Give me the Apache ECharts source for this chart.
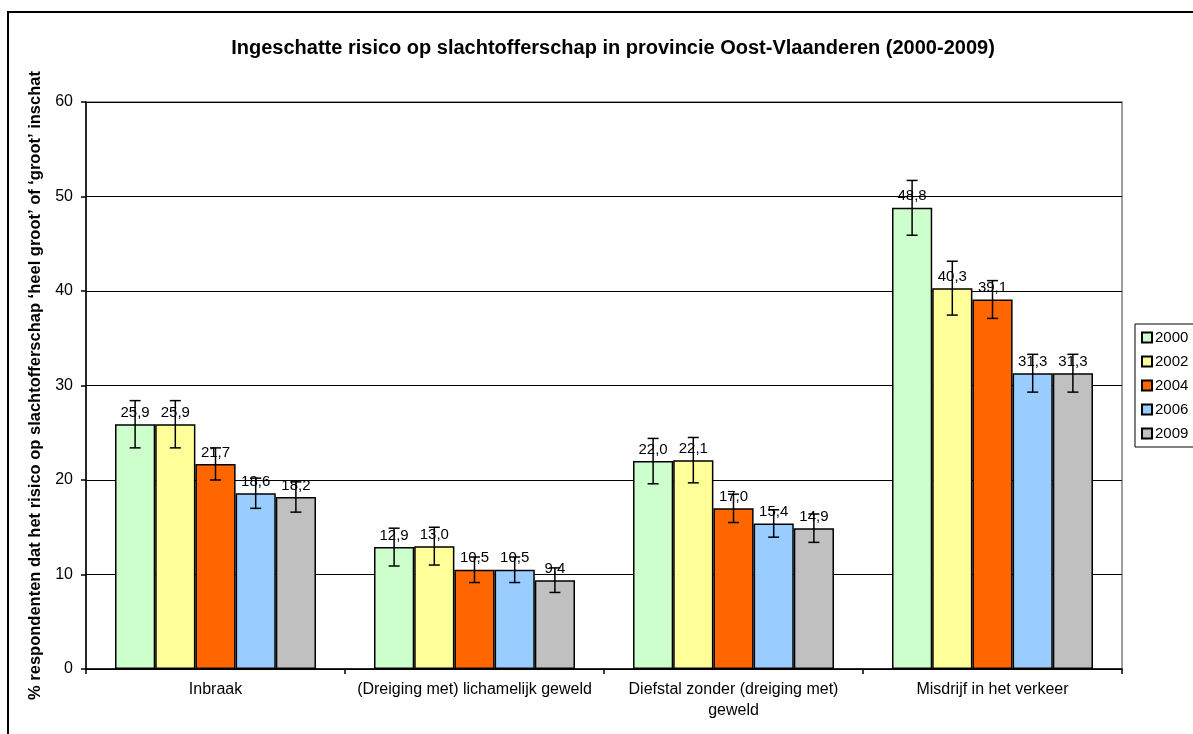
<!DOCTYPE html>
<html>
<head>
<meta charset="utf-8">
<script src="https://cdn.jsdelivr.net/npm/echarts@6/dist/echarts.min.js"></script>
<style>html,body{margin:0;padding:0;background:#fff}#c{width:1193px;height:734px}</style>
</head>
<body>
<div id="c"></div>
<script>
var categories = ['Inbraak', '(Dreiging met) lichamelijk geweld', 'Diefstal zonder (dreiging met)\ngeweld', 'Misdrijf in het verkeer'];
var years = ['2000', '2002', '2004', '2006', '2009'];
var v2000 = [25.9, 12.9, 22.0, 48.8];
var v2002 = [25.9, 13.0, 22.1, 40.3];
var v2004 = [21.7, 10.5, 17.0, 39.1];
var v2006 = [18.6, 10.5, 15.4, 31.3];
var v2009 = [18.2, 9.4, 14.9, 31.3];
var e2000 = [2.5, 2.0, 2.4, 2.9];
var e2002 = [2.5, 2.0, 2.4, 2.85];
var e2004 = [1.7, 1.35, 1.5, 2.0];
var e2006 = [1.6, 1.35, 1.45, 2.0];
var e2009 = [1.6, 1.3, 1.5, 2.0];
var yTicks = [0, 10, 20, 30, 40, 50, 60];
var colors = ['#CCFFCC', '#FFFF99', '#FF6600', '#99CCFF', '#C0C0C0'];

var values = [v2000, v2002, v2004, v2006, v2009];
var errors = [e2000, e2002, e2004, e2006, e2009];
var gapRatio = 0.224;
var font = 'Liberation Sans, Arial, sans-serif';

var series = [];
years.forEach(function (y, i) {
  series.push({
    name: y, type: 'bar', data: values[i],
    barGap: '0%', barCategoryGap: (gapRatio * 100) + '%',
    itemStyle: { color: colors[i], borderColor: '#000', borderWidth: 1.5 },
    label: {
      show: true, position: 'top', distance: 4, color: '#000',
      fontFamily: font, fontSize: 15,
      formatter: function (p) { return p.value.toFixed(1).replace('.', ','); }
    }
  });
});
var errData = [];
years.forEach(function (y, i) {
  values[i].forEach(function (v, c) {
    errData.push([c, v - errors[i][c], v + errors[i][c], i]);
  });
});
series.push({
  type: 'custom', z: 10, silent: true,
  data: errData,
  encode: { x: 0, y: [1, 2] },
  renderItem: function (params, api) {
    var c = api.value(0), lo = api.value(1), hi = api.value(2), si = api.value(3);
    var cw = api.size([1, 0])[0];
    var gw = cw * (1 - gapRatio);
    var bw = gw / years.length;
    var off = -gw / 2 + bw * (si + 0.5);
    var pLo = api.coord([c, lo]);
    var pHi = api.coord([c, hi]);
    var x = pLo[0] + off;
    var hw = 5.5;
    var st = { stroke: '#000', lineWidth: 1.5 };
    return {
      type: 'group',
      children: [
        { type: 'line', shape: { x1: x, y1: pLo[1], x2: x, y2: pHi[1] }, style: st },
        { type: 'line', shape: { x1: x - hw, y1: pLo[1], x2: x + hw, y2: pLo[1] }, style: st },
        { type: 'line', shape: { x1: x - hw, y1: pHi[1], x2: x + hw, y2: pHi[1] }, style: st }
      ]
    };
  }
});

var chart = echarts.init(document.getElementById('c'), null, { renderer: 'canvas' });
chart.setOption({
  animation: false,
  backgroundColor: '#fff',
  textStyle: { fontFamily: font },
  title: {
    text: 'Ingeschatte risico op slachtofferschap in provincie Oost-Vlaanderen (2000-2009)',
    left: 608, textAlign: 'center', top: 33,
    textStyle: { fontFamily: font, fontSize: 20, fontWeight: 'bold', color: '#000' }
  },
  graphic: [{
    type: 'rect', shape: { x: 8, y: 12, width: 1200, height: 740 },
    style: { fill: 'none', stroke: '#000', lineWidth: 2 }, silent: true, z: 100
  }],
  legend: {
    data: years, orient: 'vertical', left: 1135, top: 324,
    borderColor: '#000', borderWidth: 1, padding: [6, 10, 6, 6],
    itemWidth: 10, itemHeight: 10, itemGap: 9, icon: 'rect',
    textStyle: { fontFamily: font, fontSize: 15, color: '#000', padding: [0, 0, 0, -2] }
  },
  grid: {
    left: 86, right: 71, top: 102, bottom: 65,
    show: true, borderColor: '#808080', borderWidth: 1.5, backgroundColor: '#fff'
  },
  xAxis: {
    type: 'category', data: categories,
    axisLine: { lineStyle: { color: '#000', width: 1.5 } },
    axisTick: { show: true, length: 5, lineStyle: { color: '#000', width: 1.5 } },
    axisLabel: { color: '#000', fontFamily: font, fontSize: 16, margin: 10, interval: 0, lineHeight: 21 }
  },
  yAxis: {
    type: 'value', min: yTicks[0], max: yTicks[yTicks.length - 1], interval: 10,
    name: '% respondenten dat het risico op slachtofferschap \u2018heel groot\u2019 of \u2018groot\u2019 inschat',
    nameLocation: 'middle', nameGap: 41, nameRotate: 90,
    nameTextStyle: { fontFamily: font, fontSize: 16.5, fontWeight: 'bold', color: '#000' },
    axisLine: { show: true, lineStyle: { color: '#000', width: 1.5 } },
    axisTick: { show: true, length: 5, lineStyle: { color: '#000', width: 1.5 } },
    axisLabel: { color: '#000', fontFamily: font, fontSize: 16, margin: 13 },
    splitLine: { show: true, lineStyle: { color: '#000', width: 1 } }
  },
  series: series
});
</script>
</body>
</html>
